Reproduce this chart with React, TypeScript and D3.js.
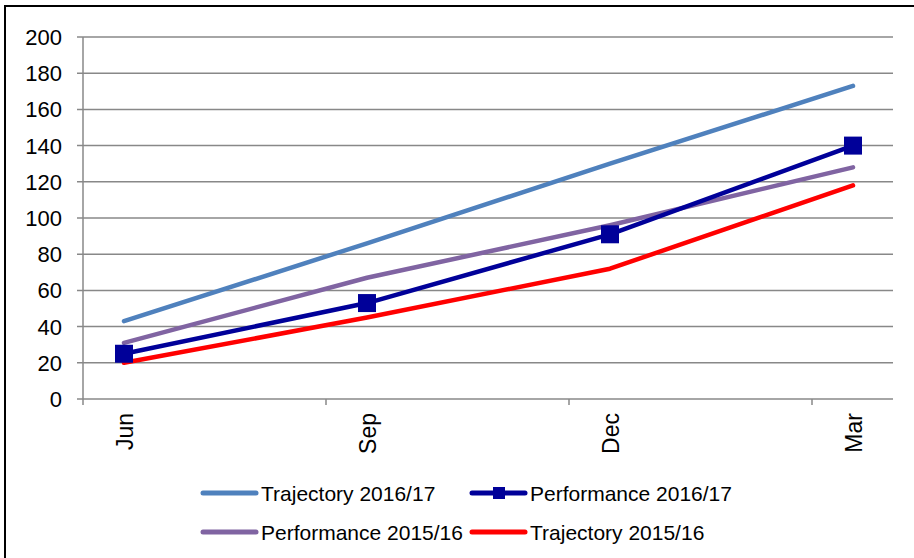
import React, { useEffect, useRef } from "react";
import * as d3 from "d3";

const width = 914;
const height = 558;

const months = ["Jun", "Sep", "Dec", "Mar"];
const yTicks = [0, 20, 40, 60, 80, 100, 120, 140, 160, 180, 200];

const trajectory1617 = [43, 86, 130, 173];
const performance1617 = [25, 53, 91, 140];
const performance1516 = [31, 67, 96, 128];
const trajectory1516 = [20, 45, 72, 118];

const series = [
  { name: "Trajectory 2016/17", values: trajectory1617, color: "#4F81BD", marker: false },
  { name: "Performance 2016/17", values: performance1617, color: "#000099", marker: true },
  { name: "Performance 2015/16", values: performance1516, color: "#8064A2", marker: false },
  { name: "Trajectory 2015/16", values: trajectory1516, color: "#FF0000", marker: false },
];

// draw order: back to front
const drawOrder = [0, 2, 3, 1];

const plot = { left: 83, right: 893, top: 37, bottom: 399 };

export default function App() {
  const ref = useRef<SVGSVGElement>(null);

  useEffect(() => {
    const svg = d3.select(ref.current);
    svg.selectAll("*").remove();

    const x = d3.scalePoint<string>().domain(months).range([124, 853]);
    const y = d3.scaleLinear().domain([0, 200]).range([plot.bottom, plot.top]);
    const tickOffset = 41;
    const font = "Liberation Sans, Arial, sans-serif";

    svg.append("rect")
      .attr("x", 5).attr("y", 6)
      .attr("width", width + 10).attr("height", height + 10)
      .attr("fill", "white").attr("stroke", "#000").attr("stroke-width", 2);

    // gridlines
    svg.append("g").selectAll("line")
      .data(yTicks)
      .enter().append("line")
      .attr("x1", plot.left - 6).attr("x2", plot.right)
      .attr("y1", d => y(d)).attr("y2", d => y(d))
      .attr("stroke", "#888").attr("stroke-width", 1.5);

    // y axis line
    svg.append("line")
      .attr("x1", plot.left).attr("x2", plot.left)
      .attr("y1", plot.top).attr("y2", plot.bottom + 6)
      .attr("stroke", "#888").attr("stroke-width", 1.5);

    // x ticks
    svg.append("g").selectAll("line")
      .data(months.slice(1))
      .enter().append("line")
      .attr("x1", d => (x(d) as number) - tickOffset)
      .attr("x2", d => (x(d) as number) - tickOffset)
      .attr("y1", plot.bottom).attr("y2", plot.bottom + 6)
      .attr("stroke", "#888").attr("stroke-width", 1.5);

    // y labels
    svg.append("g").selectAll("text")
      .data(yTicks)
      .enter().append("text")
      .attr("x", 62).attr("y", d => y(d))
      .attr("dy", "0.36em")
      .attr("text-anchor", "end")
      .style("font", `22px ${font}`)
      .attr("fill", "#000")
      .text(d => d);

    // x labels
    svg.append("g").selectAll("text")
      .data(months)
      .enter().append("text")
      .attr("transform", d => `translate(${(x(d) as number) + 9},413)rotate(-90)`)
      .attr("text-anchor", "end")
      .style("font", `23px ${font}`)
      .attr("fill", "#000")
      .text(d => d);

    const line = d3.line<number>()
      .x((_, i) => x(months[i]) as number)
      .y(d => y(d));

    drawOrder.forEach(idx => {
      const s = series[idx];
      svg.append("path")
        .datum(s.values)
        .attr("fill", "none")
        .attr("stroke", s.color)
        .attr("stroke-width", 4.5)
        .attr("stroke-linecap", "round")
        .attr("stroke-linejoin", "round")
        .attr("d", line);
      if (s.marker) {
        svg.append("g").selectAll("rect")
          .data(s.values)
          .enter().append("rect")
          .attr("x", (_, i) => (x(months[i]) as number) - 9)
          .attr("y", d => y(d) - 9)
          .attr("width", 18).attr("height", 18)
          .attr("fill", s.color);
      }
    });

    // legend
    const legendPos = [
      { x: 200, y: 493 },
      { x: 469, y: 493 },
      { x: 200, y: 532 },
      { x: 469, y: 532 },
    ];
    series.forEach((s, i) => {
      const p = legendPos[i];
      const g = svg.append("g").attr("transform", `translate(${p.x},${p.y})`);
      g.append("line")
        .attr("x1", 3).attr("x2", 56)
        .attr("y1", 0).attr("y2", 0)
        .attr("stroke", s.color).attr("stroke-width", 5)
        .attr("stroke-linecap", "round");
      if (s.marker) {
        g.append("rect")
          .attr("x", 30 - 6).attr("y", -6)
          .attr("width", 12).attr("height", 12)
          .attr("fill", s.color);
      }
      g.append("text")
        .attr("x", 61).attr("y", 0)
        .attr("dy", "0.36em")
        .style("font", `21px ${font}`)
        .attr("fill", "#000")
        .text(s.name);
    });
  }, []);

  return (
    <svg
      ref={ref}
      width={width}
      height={height}
      style={{ position: "absolute", left: 0, top: 0, background: "white" }}
    />
  );
}
